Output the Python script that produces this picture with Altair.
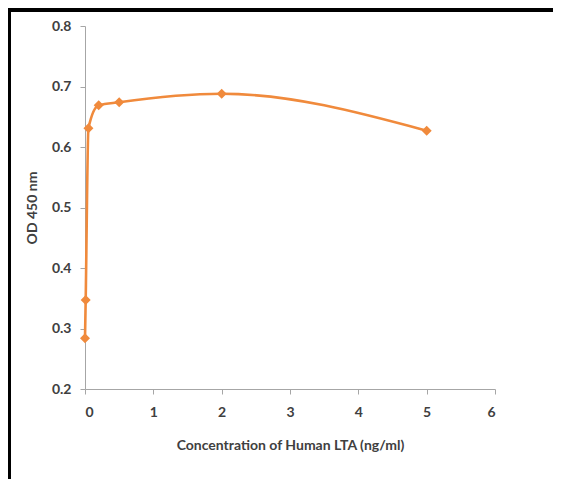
import altair as alt
import pandas as pd

conc = [0, 0.01, 0.05, 0.2, 0.5, 2, 5]
od = [0.284, 0.347, 0.631, 0.669, 0.674, 0.688, 0.627]
x_ticks = [0, 1, 2, 3, 4, 5, 6]
y_ticks = [0.2, 0.3, 0.4, 0.5, 0.6, 0.7, 0.8]

df = pd.DataFrame({"conc": conc, "od": od})

W, H = 410, 363
PL, PT, PR, PB = 77, 18, 58, 90
ORANGE = "#F08A3C"
GRAY = "#A6A6A6"
FONT = "Lato"

x_enc = alt.X(
    "conc:Q",
    scale=alt.Scale(domain=[0, 6], nice=False, zero=False),
    axis=alt.Axis(
        values=x_ticks, format="d", grid=False,
        title="Concentration of Human LTA (ng/ml)",
        titleX=W / 2, titleY=56, titleAlign="center", titleBaseline="middle",
        labelPadding=11, tickSize=5,
    ),
)
y_enc = alt.Y(
    "od:Q",
    scale=alt.Scale(domain=[0.2, 0.8], nice=False, zero=False),
    axis=alt.Axis(
        values=y_ticks, format=".1f", grid=False,
        title="OD 450 nm",
        titleX=-53, titleY=H / 2, titleAlign="center", titleBaseline="middle",
        titleAngle=270,
        labelPadding=9, tickSize=5,
    ),
)

line = alt.Chart(df).mark_line(
    interpolate="monotone", color=ORANGE, strokeWidth=2.6
).encode(x=x_enc, y=y_enc)

pts = alt.Chart(df).mark_point(
    shape="diamond", filled=True, color=ORANGE, size=100, opacity=1
).encode(x="conc:Q", y="od:Q")

frame_df = pd.DataFrame({"k": [0]})
left_bar = alt.Chart(frame_df).mark_rect(color="black").encode(
    x=alt.value(-PL), x2=alt.value(-PL + 3),
    y=alt.value(-PT), y2=alt.value(H + PB),
)
top_bar = alt.Chart(frame_df).mark_rect(color="black").encode(
    x=alt.value(-PL), x2=alt.value(W + PR),
    y=alt.value(-PT), y2=alt.value(-PT + 4),
)

chart = alt.layer(line, pts, left_bar, top_bar).properties(
    width=W, height=H,
    autosize=alt.AutoSizeParams(type="none"),
    padding={"left": PL, "top": PT, "right": PR, "bottom": PB},
    background="white",
).configure_view(stroke=None).configure_axis(
    domainColor=GRAY, tickColor=GRAY,
    labelFont=FONT, labelFontSize=14, labelFontWeight="bold", labelColor="#404040",
    titleFont=FONT, titleFontSize=14, titleFontWeight="bold", titleColor="#404040",
)

chart.save("out.html", embed_options={"renderer": "svg", "actions": False})
